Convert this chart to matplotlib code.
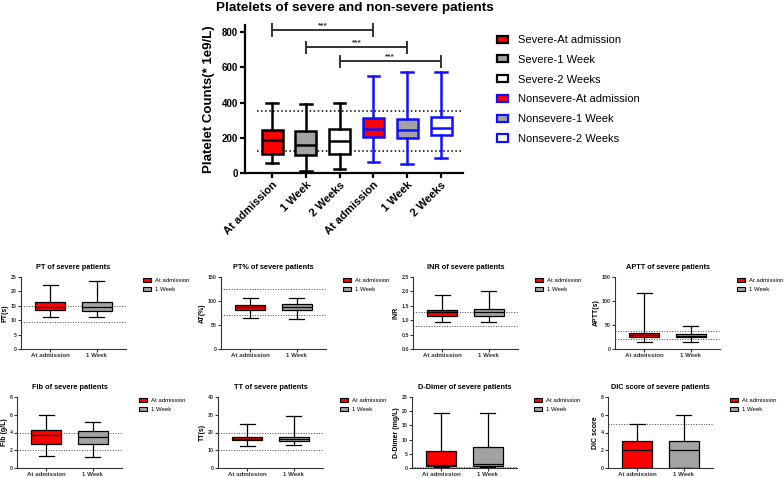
import matplotlib.pyplot as plt
from matplotlib.patches import Patch

plt.rcParams['font.family'] = ['Liberation Sans', 'DejaVu Sans']

W, H = 784, 478

# ---- platelets (top chart) ----
plt_labels = ['Severe-At admission', 'Severe-1 Week', 'Severe-2 Weeks',
              'Nonsevere-At admission', 'Nonsevere-1 Week', 'Nonsevere-2 Weeks']
plt_ticks = ['At admission', '1 Week', '2 Weeks', 'At admission', '1 Week', '2 Weeks']
plt_whislo = [55, 12, 22, 60, 52, 85]
plt_q1 = [108, 104, 105, 205, 200, 215]
plt_med = [185, 157, 180, 252, 242, 258]
plt_q3 = [245, 240, 250, 312, 305, 318]
plt_whishi = [395, 393, 398, 548, 573, 573]
plt_refs = [125, 350]
sig_pairs = [(1, 4), (2, 5), (3, 6)]
sig_heights = [814, 715, 634]

# ---- coagulation panels (severe patients) ----
panel_titles = ['PT of severe patients', 'PT% of severe patients', 'INR of severe patients',
                'APTT of severe patients', 'Fib of severe patients', 'TT of severe patients',
                'D-Dimer of severe patients', 'DIC score of severe patients']
panel_ylabels = ['PT(s)', 'AT(%)', 'INR', 'APTT(s)', 'Fib (g/L)', 'TT(s)',
                 'D-Dimer (mg/L)', 'DIC score']
panel_groups = ['At admission', '1 Week']
pt = [[11.0, 13.4, 14.7, 16.4, 22.3], [11.0, 13.3, 14.6, 16.4, 23.6]]
ptp = [[65, 81, 87, 92, 106], [62, 81, 88, 94, 106]]
inr = [[0.94, 1.16, 1.29, 1.36, 1.86], [0.94, 1.15, 1.30, 1.40, 2.00]]
aptt = [[15, 26, 30, 33, 116], [14, 24, 28, 32, 47]]
fib = [[1.32, 2.67, 3.68, 4.25, 6.0], [1.28, 2.70, 3.53, 4.17, 5.15]]
tt = [[12.2, 15.6, 16.5, 17.3, 24.8], [12.8, 15.4, 16.5, 17.7, 29.1]]
ddimer = [[0.2, 0.6, 1.0, 5.9, 19.2], [0.2, 0.6, 1.4, 7.5, 19.5]]
dic = [[0, 0, 2, 3, 5], [0, 0, 2, 3, 6]]
panel_data = [pt, ptp, inr, aptt, fib, tt, ddimer, dic]
panel_refs = [[9.4, 15], [70, 125], [0.8, 1.28], [21, 37], [2, 4], [10, 20], [0.5], [5]]
panel_ymax = [25, 150, 2.5, 150, 8, 40, 25, 8]
panel_ystep = [5, 50, 0.5, 50, 2, 10, 5, 2]

RED = '#ff0000'
GRAY = '#a3a3a3'
BLUE = '#1010ff'


def px_axes(fig, left, top, right, bottom):
    return fig.add_axes([left / W, 1 - bottom / H, (right - left) / W, (bottom - top) / H])


def stats(lo, q1, med, q3, hi):
    return dict(whislo=lo, q1=q1, med=med, q3=q3, whishi=hi, fliers=[])


fig = plt.figure(figsize=(W / 100, H / 100), dpi=100)

# ---------- top chart ----------
ax = px_axes(fig, 245, 25, 463, 173)
bstats = [stats(*v) for v in zip(plt_whislo, plt_q1, plt_med, plt_q3, plt_whishi)]
pos = list(range(1, 7))
faces = ['red', GRAY, 'white', 'red', GRAY, 'white']
edges = ['black'] * 3 + [BLUE] * 3
bp = ax.bxp(bstats, positions=pos, widths=0.62, capwidths=0.34, patch_artist=True,
            showfliers=False, manage_ticks=False)
for i in range(6):
    bp['boxes'][i].set(facecolor=faces[i], edgecolor=edges[i], linewidth=1.8)
    bp['medians'][i].set(color=edges[i], linewidth=1.8)
    for j in (2 * i, 2 * i + 1):
        bp['whiskers'][j].set(color=edges[i], linewidth=1.8)
        bp['caps'][j].set(color=edges[i], linewidth=1.8)
for r in plt_refs:
    ax.plot([0.55, 6.65], [r, r], ls=':', color='black', lw=1.1, zorder=0)
for (a, b), h in zip(sig_pairs, sig_heights):
    ax.plot([a, b], [h, h], color='#333333', lw=1.4, clip_on=False)
    for x in (a, b):
        ax.plot([x, x], [h - 34, h + 30], color='#333333', lw=1.4, clip_on=False)
    ax.text((a + b) / 2, h + 4, '***', ha='center', va='bottom', fontsize=6,
            fontweight='bold', color='#333333')
ax.set_xlim(0.2, 6.65)
ax.set_ylim(0, 840)
ax.set_yticks([0, 200, 400, 600, 800])
ax.set_xticks(pos)
ax.set_xticklabels(plt_ticks, rotation=45, ha='right', rotation_mode='anchor',
                   fontsize=8, fontweight='bold')
for lab in ax.get_yticklabels():
    lab.set_fontweight('bold')
    lab.set_fontsize(7)
for s in ('top', 'right'):
    ax.spines[s].set_visible(False)
for s in ('left', 'bottom'):
    ax.spines[s].set_linewidth(1.6)
ax.tick_params(width=1.6, length=3.5, pad=1.5)
ax.set_ylabel('Platelet Counts(* 1e9/L)', fontsize=9.5, fontweight='bold', labelpad=5)
fig.text(355 / W, 1 - 8 / H, 'Platelets of severe and non-severe patients', fontsize=9.7,
         fontweight='bold', ha='center', va='center')
handles = [Patch(facecolor=f, edgecolor=e, linewidth=1.6) for f, e in zip(faces, edges)]
fig.legend(handles, plt_labels, loc='upper left', bbox_to_anchor=(497 / W, 1 - 35 / H),
           frameon=False, fontsize=8, handlelength=1.0, handleheight=0.6,
           handletextpad=0.9, labelspacing=0.88, borderpad=0, borderaxespad=0)

# ---------- small panels ----------
lefts = [21, 221, 413, 615, 17, 218, 412, 608]
rows = [(277, 349), (397, 468)]
for k in range(8):
    top, bottom = rows[k // 4]
    left = lefts[k]
    a = px_axes(fig, left, top, left + 105, bottom)
    d = panel_data[k]
    sb = [stats(*v) for v in d]
    b = a.bxp(sb, positions=[1, 2], widths=0.65, capwidths=0.33, patch_artist=True,
              showfliers=False, manage_ticks=False)
    for i, fc in enumerate([RED, GRAY]):
        b['boxes'][i].set(facecolor=fc, edgecolor='black', linewidth=0.9)
        b['medians'][i].set(color='black', linewidth=0.9)
    for art in b['whiskers'] + b['caps']:
        art.set(color='black', linewidth=0.9)
    for r in panel_refs[k]:
        a.axhline(r, ls=':', color='#444444', lw=0.7, zorder=0)
    a.set_xlim(0.37, 2.63)
    a.set_ylim(0, panel_ymax[k])
    step = panel_ystep[k]
    n = int(round(panel_ymax[k] / step))
    yt = [step * i for i in range(n + 1)]
    a.set_yticks(yt)
    if step < 1:
        a.set_yticklabels(['%.1f' % v for v in yt])
    a.set_xticks([1, 2])
    a.set_xticklabels(panel_groups, fontsize=4.4, fontweight='bold')
    for lab in a.get_yticklabels():
        lab.set_fontsize(3.8)
        lab.set_fontweight('bold')
    for s in ('top', 'right'):
        a.spines[s].set_visible(False)
    for s in ('left', 'bottom'):
        a.spines[s].set_linewidth(0.8)
        a.spines[s].set_color('#333333')
    a.tick_params(width=0.8, length=2, pad=1, colors='#333333')
    a.set_ylabel(panel_ylabels[k], fontsize=5, fontweight='bold', labelpad=1.5)
    a.set_title(panel_titles[k], fontsize=5.3, fontweight='bold', pad=6)
    hs = [Patch(facecolor=RED, edgecolor='black', linewidth=0.8),
          Patch(facecolor=GRAY, edgecolor='black', linewidth=0.8)]
    fig.legend(hs, panel_groups, loc='upper left',
               bbox_to_anchor=((left + 122) / W, 1 - (top + 1) / H),
               frameon=False, fontsize=4.3, handlelength=1.4, handleheight=0.65,
               handletextpad=0.6, labelspacing=0.7, borderpad=0, borderaxespad=0)

fig.savefig('out.png', dpi=100)
